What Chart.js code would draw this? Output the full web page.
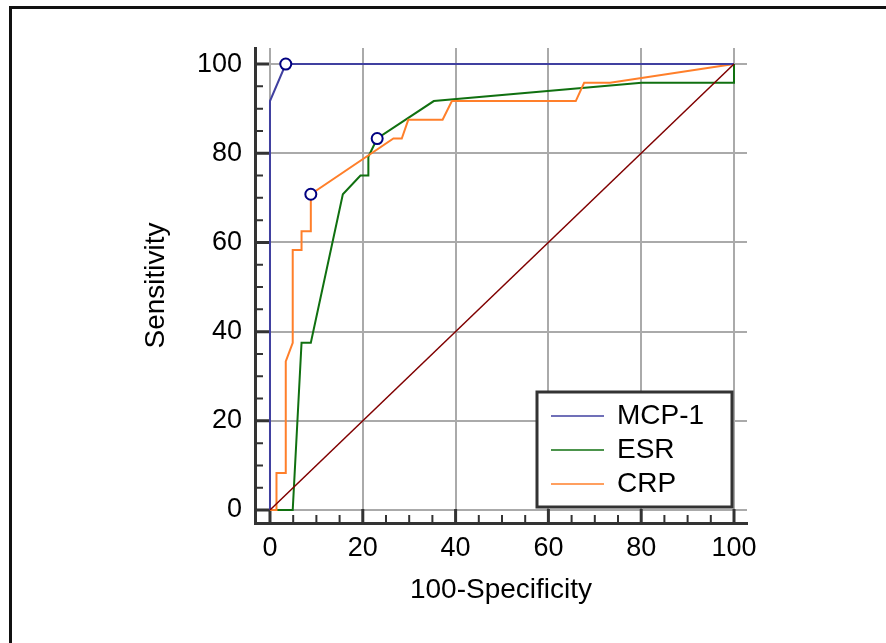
<!DOCTYPE html>
<html>
<head>
<meta charset="utf-8">
<script src="https://cdn.jsdelivr.net/npm/chart.js@4.4.0/dist/chart.umd.min.js"></script>
<style>
  html, body { margin: 0; padding: 0; background: #fff; }
  #wrap { width: 886px; height: 643px; }
</style>
</head>
<body>
<div id="wrap"><canvas id="rocChart" width="886" height="643"></canvas></div>
<script>
// ROC curves (x = 100-Specificity, y = Sensitivity)
const mcpX = [0, 0, 3.4, 100];
const mcpY = [0, 91.7, 100, 100];

const esrX = [0, 4.9, 6.8, 8.8, 15.7, 19.5, 21.2, 21.2, 23.1, 35.3, 80.1, 100, 100];
const esrY = [0, 0, 37.5, 37.5, 70.8, 75, 75, 79.2, 83.3, 91.7, 95.8, 95.8, 100];

const crpX = [0, 1.4, 1.4, 3.4, 3.4, 4.9, 4.9, 6.8, 6.8, 8.8, 8.8, 26.6, 28.4, 29.8, 37.2, 39.2, 65.9, 67.7, 73.3, 100];
const crpY = [0, 0, 8.3, 8.3, 33.3, 37.5, 58.3, 58.3, 62.5, 62.5, 70.8, 83.3, 83.3, 87.5, 87.5, 91.7, 91.7, 95.8, 95.8, 100];

// reference diagonal
const refX = [0, 100];
const refY = [0, 100];

// index of the marked cut-off point on each curve
const mcpCut = 2;
const esrCut = 8;
const crpCut = 10;

const seriesNames = ['MCP-1', 'ESR', 'CRP'];
const majorTicks = [0, 20, 40, 60, 80, 100];
const minorTicks = [5, 10, 15, 25, 30, 35, 45, 50, 55, 65, 70, 75, 85, 90, 95];

const FONT = '"Liberation Sans", Arial, sans-serif';

function toPoints(xs, ys) {
  return xs.map((x, i) => ({ x: x, y: ys[i] }));
}

function cutRadius(cut) {
  return ctx => (ctx.dataIndex === cut ? 5.5 : 0);
}

// white page with the frame lines on top and left
const pageFrame = {
  id: 'pageFrame',
  beforeDraw(chart) {
    const c = chart.ctx;
    c.save();
    c.fillStyle = '#fff';
    c.fillRect(0, 0, chart.width, chart.height);
    c.strokeStyle = '#111';
    c.lineWidth = 3;
    c.beginPath();
    c.moveTo(chart.width, 7.5);
    c.lineTo(10.5, 7.5);
    c.lineTo(10.5, chart.height);
    c.stroke();
    c.restore();
  }
};

// tick marks drawn inward from the axis lines
const innerTicks = {
  id: 'innerTicks',
  beforeDatasetsDraw(chart) {
    const c = chart.ctx;
    const xs = chart.scales.x, ys = chart.scales.y;
    const area = chart.chartArea;
    c.save();
    c.strokeStyle = '#333';
    const mark = (vals, len, w) => {
      c.lineWidth = w;
      c.beginPath();
      vals.forEach(v => {
        const px = xs.getPixelForValue(v);
        c.moveTo(px, area.bottom);
        c.lineTo(px, area.bottom - len);
        const py = ys.getPixelForValue(v);
        c.moveTo(area.left, py);
        c.lineTo(area.left + len, py);
      });
      c.stroke();
    };
    mark(majorTicks, 14, 3);
    mark(minorTicks, 8, 2);
    c.restore();
  }
};

// boxed legend in the lower right corner
const boxLegend = {
  id: 'boxLegend',
  afterDraw(chart) {
    const c = chart.ctx;
    const area = chart.chartArea;
    const right = area.right - 15, bottom = area.bottom - 16;
    const left = right - 195, top = bottom - 115;
    c.save();
    c.fillStyle = '#fff';
    c.fillRect(left, top, right - left, bottom - top);
    c.strokeStyle = '#333';
    c.lineWidth = 3;
    c.strokeRect(left, top, right - left, bottom - top);
    c.font = '28px ' + FONT;
    c.textBaseline = 'middle';
    c.fillStyle = '#000';
    seriesNames.forEach((name, i) => {
      const ds = chart.data.datasets[i];
      const y = top + 24 + i * 34;
      c.strokeStyle = ds.borderColor;
      c.lineWidth = 1.5;
      c.beginPath();
      c.moveTo(left + 14, y);
      c.lineTo(left + 67, y);
      c.stroke();
      c.fillText(name, left + 80, y);
    });
    c.restore();
  }
};

const pointStyle = {
  pointBackgroundColor: '#fff',
  pointBorderColor: '#000080',
  pointBorderWidth: 2,
  pointHoverRadius: 0
};

const ctx = document.getElementById('rocChart').getContext('2d');
const rocChart = new Chart(ctx, {
  type: 'line',
  data: {
    datasets: [
      Object.assign({
        label: seriesNames[0],
        data: toPoints(mcpX, mcpY),
        borderColor: '#4040a0',
        borderWidth: 2,
        pointRadius: cutRadius(mcpCut),
        order: 3
      }, pointStyle),
      Object.assign({
        label: seriesNames[1],
        data: toPoints(esrX, esrY),
        borderColor: '#107010',
        borderWidth: 2,
        pointRadius: cutRadius(esrCut),
        order: 5
      }, pointStyle),
      Object.assign({
        label: seriesNames[2],
        data: toPoints(crpX, crpY),
        borderColor: '#ff7f2a',
        borderWidth: 2,
        pointRadius: cutRadius(crpCut),
        order: 4
      }, pointStyle),
      {
        label: 'reference',
        data: toPoints(refX, refY),
        borderColor: '#800000',
        borderWidth: 1.5,
        pointRadius: 0,
        order: 1
      }
    ]
  },
  options: {
    responsive: false,
    animation: false,
    devicePixelRatio: 1,
    layout: {
      padding: { top: 48, right: 139, bottom: 0, left: 0 }
    },
    plugins: {
      legend: { display: false },
      tooltip: { enabled: false }
    },
    scales: {
      x: {
        type: 'linear',
        min: -3.23,
        max: 102.8,
        afterBuildTicks: s => { s.ticks = majorTicks.map(v => ({ value: v })); },
        afterFit: s => { s.height = 120; },
        grid: { color: '#aaaaaa', lineWidth: 2, drawTicks: false },
        border: { display: true, color: '#333', width: 3 },
        ticks: { color: '#000', padding: 9, font: { family: FONT, size: 27 }, maxRotation: 0 },
        title: { display: true, text: '100-Specificity', color: '#000', font: { family: FONT, size: 28 }, padding: { top: 0, bottom: 36 } }
      },
      y: {
        type: 'linear',
        min: -2.91,
        max: 103.6,
        afterBuildTicks: s => { s.ticks = majorTicks.map(v => ({ value: v })); },
        afterFit: s => { s.width = 255; },
        grid: { color: '#aaaaaa', lineWidth: 2, drawTicks: false },
        border: { display: true, color: '#333', width: 3 },
        ticks: { color: '#000', padding: 13, font: { family: FONT, size: 27 } },
        title: { display: true, text: 'Sensitivity', color: '#000', font: { family: FONT, size: 28 }, padding: { top: 139, bottom: 0 } }
      }
    }
  },
  plugins: [pageFrame, innerTicks, boxLegend]
});
</script>
</body>
</html>
